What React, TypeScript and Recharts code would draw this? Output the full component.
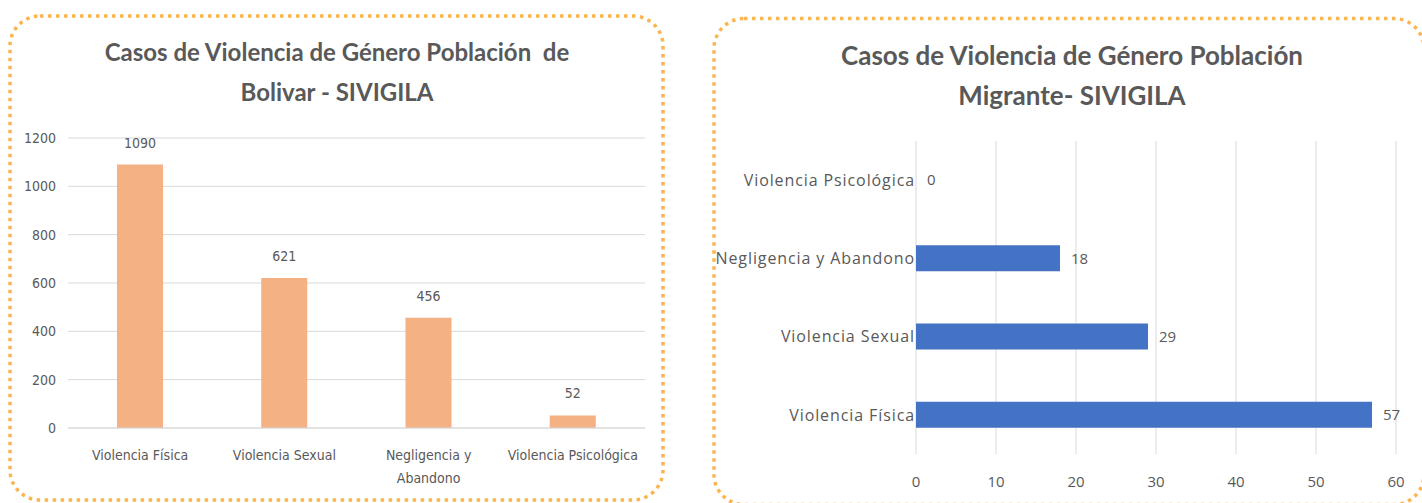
import React from "react";
import { BarChart, Bar, XAxis, YAxis, CartesianGrid, LabelList } from "recharts";

// Bolivar (left chart)
const bolivarCategories = ["Violencia Física", "Violencia Sexual", "Negligencia y Abandono", "Violencia Psicológica"];
const bolivarCases = [1090, 621, 456, 52];
const bolivarTickLines = [["Violencia Física"], ["Violencia Sexual"], ["Negligencia y", "Abandono"], ["Violencia Psicológica"]];
const bolivarYTicks = [0, 200, 400, 600, 800, 1000, 1200];

// Migrante (right chart)
const migrantCategories = ["Violencia Física", "Violencia Sexual", "Negligencia y Abandono", "Violencia Psicológica"];
const migrantCases = [57, 29, 18, 0];
const migrantXTicks = [0, 10, 20, 30, 40, 50, 60];

const narrow = "'Liberation Sans Narrow', 'DejaVu Sans Condensed', sans-serif";
const sans = "'Open Sans', sans-serif";
const titleFont = "Lato, sans-serif";
const textGrey = "#595959";
const gridGrey = "#D9D9D9";
const borderOrange = "#FBB550";

const bolivarData = bolivarCategories.map((name, i) => ({ name, casos: bolivarCases[i] }));
const migrantData = migrantCategories.map((name, i) => ({ name, casos: migrantCases[i] }));

const BolivarTick = (props: any) => {
  const { x, y, payload } = props;
  const idx = bolivarCategories.indexOf(payload.value);
  const lines = idx >= 0 ? bolivarTickLines[idx] : [payload.value];
  return (
    <text x={x} y={y} textAnchor="middle" fill={textGrey} fontSize={14} fontFamily={narrow}>
      {lines.map((l: string, i: number) => (
        <tspan key={i} x={x} dy={i === 0 ? 24 : 23}>
          {l}
        </tspan>
      ))}
    </text>
  );
};

// value label drawn for every bar, zero included
const MigrantLabel = (props: any) => {
  const { x, y, width, height, value } = props;
  return (
    <text x={x + width + 11} y={y + height / 2} dy="0.35em" fill={textGrey} fontSize={15} fontFamily={sans}>
      {value}
    </text>
  );
};

const titleStyle: React.CSSProperties = {
  position: "absolute",
  textAlign: "center",
  fontFamily: titleFont,
  fontWeight: 700,
  color: textGrey,
  lineHeight: "40px",
  whiteSpace: "pre",
};

const App: React.FC = () => {
  return (
    <div style={{ position: "absolute", left: 0, top: 0, width: 1422, height: 503, overflow: "hidden", background: "#fff" }}>
      <svg width={1422} height={503} style={{ position: "absolute", left: 0, top: 0 }}>
        <rect x={10} y={16} width={653} height={484} rx={30} fill="none" stroke={borderOrange} strokeWidth={3.5} strokeDasharray="3.5 4.5" />
        <rect x={714} y={18.5} width={710} height={486} rx={30} fill="none" stroke={borderOrange} strokeWidth={3.5} strokeDasharray="3.5 4.5" />
      </svg>

      <div style={{ ...titleStyle, left: 37, top: 32, width: 600, fontSize: 24 }}>
        {"Casos de Violencia de Género Población  de\nBolivar - SIVIGILA"}
      </div>
      <div style={{ ...titleStyle, left: 772, top: 35, width: 600, fontSize: 26 }}>
        {"Casos de Violencia de Género Población\nMigrante- SIVIGILA"}
      </div>

      <div style={{ position: "absolute", left: 0, top: 0 }}>
        <BarChart width={662} height={503} data={bolivarData} margin={{ top: 138, right: 17, bottom: 15, left: 0 }}>
          <CartesianGrid vertical={false} stroke={gridGrey} />
          <XAxis
            dataKey="name"
            height={60}
            axisLine={{ stroke: gridGrey }}
            tickLine={false}
            interval={0}
            tick={<BolivarTick />}
          />
          <YAxis
            width={68}
            domain={[0, 1200]}
            ticks={bolivarYTicks}
            axisLine={false}
            tickLine={false}
            tickMargin={6}
            tick={{ fill: textGrey, fontSize: 14, fontFamily: narrow }}
          />
          <Bar dataKey="casos" fill="#F4B183" barSize={46} isAnimationActive={false}>
            <LabelList dataKey="casos" position="top" offset={17} fill={textGrey} fontSize={14} fontFamily={narrow} />
          </Bar>
        </BarChart>
      </div>

      <div style={{ position: "absolute", left: 700, top: 0 }}>
        <BarChart width={722} height={503} data={migrantData} layout="vertical" margin={{ top: 141, right: 26, bottom: 9, left: 0 }}>
          <CartesianGrid horizontal={false} stroke={gridGrey} />
          <XAxis
            type="number"
            domain={[0, 60]}
            ticks={migrantXTicks}
            height={40}
            axisLine={false}
            tickLine={false}
            tickMargin={16}
            tick={{ fill: textGrey, fontSize: 15, fontFamily: sans }}
          />
          <YAxis
            type="category"
            dataKey="name"
            width={216}
            reversed
            axisLine={false}
            tickLine={false}
            tickSize={0}
            tickMargin={1}
            interval={0}
            tick={{ fill: textGrey, fontSize: 16, fontFamily: sans, letterSpacing: 0.9 }}
          />
          <Bar dataKey="casos" fill="#4472C4" barSize={26} minPointSize={0.01} isAnimationActive={false}>
            <LabelList dataKey="casos" content={<MigrantLabel />} />
          </Bar>
        </BarChart>
      </div>
    </div>
  );
};

export default App;
